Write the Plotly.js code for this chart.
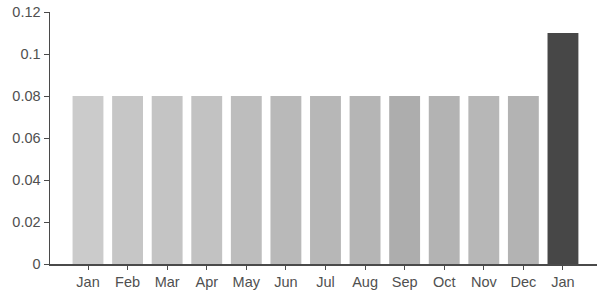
<!DOCTYPE html>
<html>
<head>
<meta charset="utf-8">
<script src="https://cdn.plot.ly/plotly-3.0.1.min.js"></script>
<style>html,body{margin:0;padding:0;background:#fff;}#chart{width:600px;height:295px;}</style>
</head>
<body>
<div id="chart"></div>
<script>
const categories = ["Jan","Feb","Mar","Apr","May","Jun","Jul","Aug","Sep","Oct","Nov","Dec","Jan"];
const values = [0.08,0.08,0.08,0.08,0.08,0.08,0.08,0.08,0.08,0.08,0.08,0.08,0.11];
const barColors = ["#cbcbcb","#c6c6c6","#c4c4c4","#c2c2c2","#bdbdbd","#b9b9b9","#b7b7b7","#b5b5b5","#adadad","#b3b3b3","#b7b7b7","#b3b3b3","#474747"];
const yTicks = [0,0.02,0.04,0.06,0.08,0.1,0.12];
const yTickText = ["0","0.02","0.04","0.06","0.08","0.1","0.12"];

const xIdx = categories.map((c,i)=>i);

Plotly.newPlot("chart",[{
  type:"bar",
  x:xIdx,
  y:values,
  marker:{color:barColors,line:{width:0}},
  hoverinfo:"none"
}],{
  width:600,height:295,
  margin:{l:50,r:3,t:12,b:31},
  paper_bgcolor:"#fff",plot_bgcolor:"#fff",
  bargap:0.22,
  showlegend:false,
  font:{family:"Liberation Sans, Arial, sans-serif",size:14.5,color:"#505050"},
  xaxis:{
    range:[-0.96,12.86],
    tickmode:"array",tickvals:xIdx,ticktext:categories,
    showline:true,linecolor:"#4a4a4a",linewidth:1.5,
    ticks:"outside",ticklen:4,tickcolor:"#4a4a4a",
    showgrid:false,zeroline:false,fixedrange:true
  },
  yaxis:{
    range:[0,0.12],
    tickmode:"array",tickvals:yTicks,ticktext:yTickText,
    showline:true,linecolor:"#4a4a4a",linewidth:1.5,
    ticks:"outside",ticklen:5,tickcolor:"#4a4a4a",
    showgrid:false,zeroline:false,fixedrange:true
  }
},{staticPlot:true});
</script>
</body>
</html>
